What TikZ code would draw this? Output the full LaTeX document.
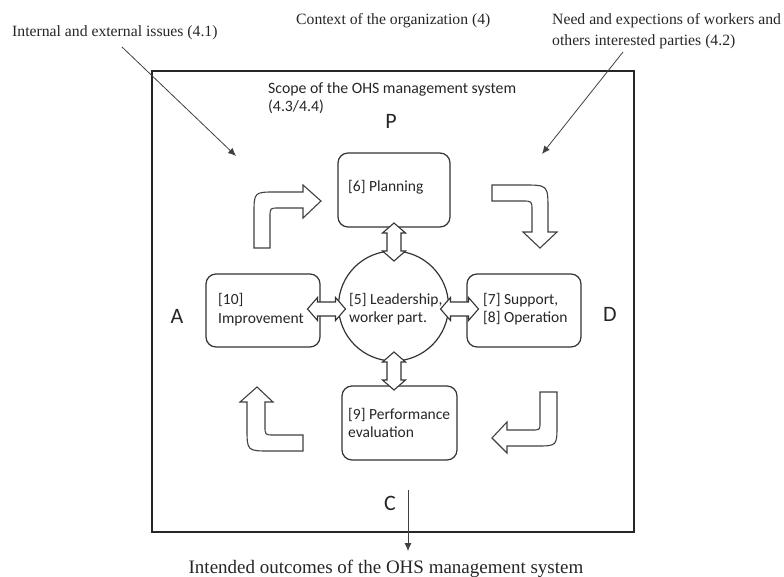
\documentclass[tikz,border=0pt]{standalone}
\usepackage{fontspec}
\setmainfont{Liberation Serif}
\newfontfamily\calib{Carlito}
\usetikzlibrary{arrows.meta}

\begin{document}
\begin{tikzpicture}[x=1pt,y=-1pt,
  outline/.style={draw=black!80, line width=1.2pt},
  stagebox/.style={outline, rounded corners=10pt, fill=white, inner sep=0pt},
  blockarrow/.style={draw=black!75, line width=1.1pt, fill=white, line join=miter},
  linkstyle/.style={draw=black!80, line width=1.1pt, fill=white, line join=miter},
  twoway/.pic={
    \path[pic actions] (-19,0) -- (-9,-11.5) -- (-9,-7) -- (9,-7) -- (9,-11.5)
      -- (19,0) -- (9,11.5) -- (9,7) -- (-9,7) -- (-9,11.5) -- cycle;
  },
  serifnote/.style={font=\fontsize{15.7}{18}\selectfont, text=black!85, inner sep=0pt, anchor=base west},
  sanslabel/.style={font=\calib\fontsize{15.5}{18}\selectfont, text=black!85, inner sep=0pt, anchor=base west},
  phase/.style={font=\calib\fontsize{22}{24}\selectfont, text=black!85, inner sep=0pt},
  leader/.style={draw=black!75, line width=0.8pt, -{Latex[length=8pt,width=7pt]}}
]
\useasboundingbox (0,0) rectangle (784,577);

% outer frame: scope of the management system
\node[draw=black!85, line width=1.3pt, minimum width=482pt, minimum height=461pt, inner sep=0pt] (scope) at (393,301.5) {};

% headings outside the frame
\node[serifnote] (issues) at (12,37) {Internal and external issues (4.1)};
\node[serifnote] (context) at (296,25) {Context of the organization (4)};
\node[serifnote] (needs1) at (552,25) {Need and expections of workers and};
\node[serifnote] (needs2) at (552,46) {others interested parties (4.2)};

\coordinate (issuesfrom) at (122,47);
\coordinate (issuesto) at (236,156);
\coordinate (needsfrom) at (623,52);
\coordinate (needsto) at (542,154);
\draw[leader] (issuesfrom) -- (issuesto);
\draw[leader] (needsfrom) -- (needsto);

% scope caption
\node[sanslabel, font=\calib\fontsize{15.8}{18}\selectfont] (scopetxt) at (268,94) {Scope of the OHS management system};
\node[sanslabel, font=\calib\fontsize{15.8}{18}\selectfont] (scopenum) at (268,112) {(4.3/4.4)};

% PDCA letters
\node[phase] (pP) at (391,121) {P};
\node[phase] (pA) at (177,316) {A};
\node[phase] (pD) at (610,314) {D};
\node[phase] (pC) at (390,503) {C};

% central leadership circle
\node[circle, outline, fill=white, minimum size=110pt, inner sep=0pt] (lead) at (393.5,306) {};
\node[sanslabel] (leadA) at (349,305) {[5] Leadership,};
\node[sanslabel] (leadB) at (349,322) {worker part.};

% stage boxes
\node[stagebox, minimum width=112pt, minimum height=74pt] (plan) at (394,190) {};
\node[sanslabel] (planT) at (348,192) {[6] Planning};

\node[stagebox, minimum width=114pt, minimum height=73pt] (impr) at (263,310.5) {};
\node[sanslabel] (imprA) at (218,305) {[10]};
\node[sanslabel] (imprB) at (218,323) {Improvement};

\node[stagebox, minimum width=114pt, minimum height=73pt] (supp) at (524,310.5) {};
\node[sanslabel] (suppA) at (483,304) {[7] Support,};
\node[sanslabel] (suppB) at (483,322) {[8] Operation};

\node[stagebox, minimum width=115pt, minimum height=74pt] (perf) at (399.5,423) {};
\node[sanslabel] (perfA) at (348,419) {[9] Performance};
\node[sanslabel] (perfB) at (348,437) {evaluation};

% two-way links between the circle and the boxes
\pic[linkstyle, rotate=90] (linkP) at (394,242) {twoway};
\pic[linkstyle, rotate=90] (linkC) at (394,371) {twoway};
\pic[linkstyle] (linkA) at (326.5,309) {twoway};
\pic[linkstyle] (linkD) at (459.5,309) {twoway};

% bent block arrows of the cycle
\draw[blockarrow] (254,248) -- (254,214) .. controls (254,192) .. (276,192)
  -- (303,192) -- (303,185) -- (321,201) -- (303,218) -- (303,208) -- (279,208)
  .. controls (270,208) .. (270,217) -- (270,248) -- cycle;

\draw[blockarrow] (492,185) -- (523,185) .. controls (548,185) .. (548,210)
  -- (548,232) -- (557,232) -- (540,248) -- (523,232) -- (532,232) -- (532,211)
  .. controls (532,201) .. (522,201) -- (492,201) -- cycle;

\draw[blockarrow] (540,392) -- (557,392) -- (557,425) .. controls (557,446) .. (536,446)
  -- (507,446) -- (507,453) -- (492,438) -- (507,422) -- (507,430) -- (532,430)
  .. controls (540,430) .. (540,422) -- cycle;

\draw[blockarrow] (303,435) -- (303,451) -- (270,451) .. controls (247,451) .. (247,428)
  -- (247,402) -- (240,402) -- (257,387) -- (273,402) -- (265,402) -- (265,426)
  .. controls (265,435) .. (274,435) -- cycle;

% outcome
\node[font=\fontsize{19}{22}\selectfont, text=black!85, inner sep=0pt, anchor=base] (outcome) at (386,573) {Intended outcomes of the OHS management system};
\coordinate (outstart) at (408,490);
\coordinate (outend) at (408,551);
\draw[leader] (outstart) -- (outend);
\end{tikzpicture}
\end{document}
